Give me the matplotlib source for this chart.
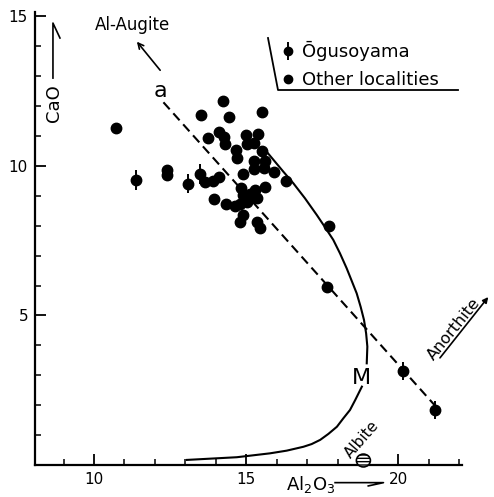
import matplotlib
matplotlib.use('Agg')
import matplotlib.pyplot as plt
from matplotlib.patches import Ellipse
from matplotlib.lines import Line2D

# Ogusoyama samples (with error bars)
ogu_al2o3 = [11.37, 13.10, 13.48, 20.14, 21.19]
ogu_cao = [9.52, 9.41, 9.74, 3.13, 1.83]
ogu_err = [0.33, 0.33, 0.33, 0.30, 0.30]

# Other localities
oth_al2o3 = [10.72, 14.25, 13.53, 14.44, 15.53, 13.74, 14.11, 14.28, 14.31, 14.98,
             15.39, 15.02, 15.27, 14.65, 15.52, 14.70, 15.24, 15.63, 15.26, 15.60,
             15.90, 14.88, 16.31, 12.39, 12.39, 13.65, 13.92, 14.11, 14.84, 15.29,
             15.63, 14.91, 15.35, 13.94, 14.32, 14.64, 14.80, 15.02, 14.91, 14.80,
             15.35, 15.46, 17.72, 17.65, 15.11]
oth_cao = [11.28, 12.17, 11.69, 11.63, 11.79, 10.94, 11.13, 10.97, 10.74, 11.04,
           11.08, 10.74, 10.76, 10.54, 10.50, 10.26, 10.17, 10.17, 9.89, 9.93,
           9.80, 9.72, 9.49, 9.86, 9.69, 9.47, 9.50, 9.63, 9.27, 9.19,
           9.29, 9.02, 8.94, 8.89, 8.73, 8.67, 8.74, 8.80, 8.36, 8.13,
           8.13, 7.91, 7.99, 5.94, 9.05]

# Al-augite (a) -> anorthite trend
trend_al2o3 = [12.28, 21.27]
trend_cao = [12.13, 1.91]

# boundary curve, broken at the "M" label
curve_hi_al2o3 = [15.62, 16.22, 16.55, 16.93, 17.32, 17.59, 17.86, 18.08, 18.30,
                  18.45, 18.63, 18.76, 18.87, 18.94, 18.98, 18.96]
curve_hi_cao = [10.54, 9.81, 9.42, 8.92, 8.36, 7.95, 7.53, 7.08, 6.58,
                6.20, 5.74, 5.29, 4.85, 4.40, 3.96, 3.40]
curve_lo_al2o3 = [18.80, 18.58, 18.41, 18.19, 17.98, 17.70, 17.43, 17.15, 16.88,
                  16.33, 15.78, 14.69, 13.05]
curve_lo_cao = [2.62, 2.17, 1.84, 1.56, 1.28, 1.04, 0.84, 0.70, 0.61,
                0.48, 0.39, 0.26, 0.17]

albite_al2o3, albite_cao = 18.85, 0.15

W, H = 494, 497
fig = plt.figure(figsize=(W / 100, H / 100), dpi=100)
ax = fig.add_axes([35 / W, 1 - 465 / H, 427 / W, 453 / H])
ax.set_xlim(8.06, 22.09)
ax.set_ylim(0, 15.15)

for s in ['top', 'right']:
    ax.spines[s].set_visible(False)
for s in ['left', 'bottom']:
    ax.spines[s].set_linewidth(1.6)

ax.set_xticks([10, 15, 20])
ax.set_xticks(range(9, 23), minor=True)
ax.set_yticks([5, 10, 15])
ax.set_yticks(range(1, 16), minor=True)
ax.tick_params(which='major', direction='in', length=8, width=1.3, labelsize=11, pad=5)
ax.tick_params(which='minor', direction='in', length=4, width=1.1)

# trend line and curve
ax.plot(trend_al2o3, trend_cao, color='black', lw=1.5, dashes=(4.5, 2.6))
ax.plot(curve_hi_al2o3, curve_hi_cao, color='black', lw=1.5, solid_joinstyle='round')
ax.plot(curve_lo_al2o3, curve_lo_cao, color='black', lw=1.5, solid_joinstyle='round')

# data
ax.errorbar(ogu_al2o3, ogu_cao, yerr=ogu_err, fmt='o', color='black', ms=7.5,
            elinewidth=1.4, capsize=0, zorder=3)
ax.plot(oth_al2o3, oth_cao, 'o', color='black', ms=7.5, zorder=3)

# albite symbol
ax.add_patch(Ellipse((albite_al2o3, albite_cao), 0.46, 0.43, facecolor='white',
                     edgecolor='black', hatch='-----', lw=1.2, clip_on=False, zorder=4))

# labels
ax.text(11.28, 14.7, 'Al-Augite', fontsize=12, ha='center', va='center')
ax.annotate('', xy=(11.35, 14.23), xytext=(12.23, 13.13),
            arrowprops=dict(arrowstyle='->', lw=1.2, color='black'))
ax.text(12.17, 12.51, 'a', fontsize=16, ha='center', va='center')
ax.text(18.8, 2.91, 'M', fontsize=16, ha='center', va='center')
ax.text(18.8, 0.87, 'Albite', fontsize=11, ha='center', va='center', rotation=49)
ax.text(21.83, 4.55, 'Anorthite', fontsize=11.5, ha='center', va='center', rotation=51)
ax.annotate('', xy=(23.01, 5.69), xytext=(21.31, 3.51), annotation_clip=False,
            arrowprops=dict(arrowstyle='-|>', lw=1.2, color='black', mutation_scale=8))

ax.text(8.69, 12.1, 'CaO', fontsize=13, rotation=90, ha='center', va='center')
ax.plot([8.65, 8.65, 8.88], [12.94, 14.78, 14.28], color='black', lw=1.2, clip_on=False)

ax.text(17.13, -0.64, r'Al$_2$O$_3$', fontsize=13, ha='center', va='center')
ax.plot([17.92, 19.51, 19.01], [-0.59, -0.59, -0.70], color='black', lw=1.2, clip_on=False)

# legend with open frame
h1 = ax.errorbar([], [], yerr=[], fmt='o', color='black', ms=6, elinewidth=1.4, capsize=0)
h2 = Line2D([], [], marker='o', color='black', ls='none', ms=6)
ax.legend([h1, h2], ['\u014cgusoyama', 'Other localities'], loc='upper left',
          bbox_to_anchor=(282 / W, 1 - 41 / H), bbox_transform=fig.transFigure,
          frameon=False, fontsize=13, handlelength=0.7, handletextpad=0.4,
          labelspacing=0.55, borderpad=0, borderaxespad=0)
fig.add_artist(Line2D([268 / W, 278 / W, 458 / W], [1 - 38 / H, 1 - 90 / H, 1 - 90 / H],
                      transform=fig.transFigure, color='black', lw=1.3))

fig.savefig('out.png', dpi=100)
